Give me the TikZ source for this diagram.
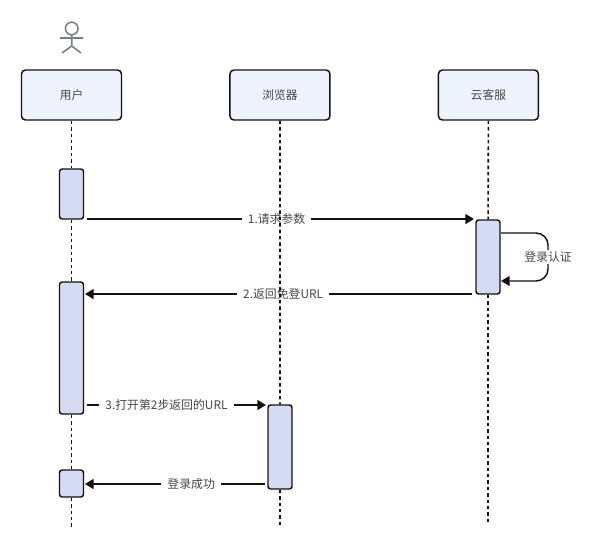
\documentclass[tikz,border=0pt]{standalone}
\usepackage{fontspec}
\setmainfont{Noto Sans CJK SC}
\usetikzlibrary{arrows.meta,positioning}
\definecolor{ink}{RGB}{18,18,18}
\definecolor{labelgray}{RGB}{70,70,70}
\definecolor{actorgray}{RGB}{122,126,138}
\definecolor{headfill}{RGB}{239,243,253}
\definecolor{activefill}{RGB}{213,219,243}

\begin{document}
\begin{tikzpicture}[x=0.75pt,y=-0.75pt,node distance=80.25pt]
        \tikzstyle{headbox}=[draw=ink,fill=headfill,line width=1.1pt,rounded corners=3pt,minimum width=75pt,minimum height=37.5pt,text=labelgray,font=\fontsize{8.8pt}{10pt}\selectfont]
        \tikzstyle{activebox}=[draw=ink,fill=activefill,line width=1.1pt,rounded corners=2pt,minimum width=18pt,inner sep=0pt]
        \tikzstyle{msg}=[-{Triangle[length=6.5pt,width=7.5pt]},ink,line width=1.1pt]
        \tikzstyle{msglabel}=[fill=white,text=labelgray,inner xsep=4.5pt,inner ysep=0pt,font=\fontsize{8.9pt}{10pt}\selectfont]
        \tikzstyle{lifeline}=[ink,line width=1.2pt,dash pattern=on 2.6pt off 2.2pt]
        \useasboundingbox (0,0) rectangle (599,551);
        \draw[actorgray,line width=1.2pt] (71.7,28.5) circle (6.3);
        \draw[actorgray,line width=1.2pt] (60,38) -- (83,38) (71.7,35) -- (71.7,46) (62,53) -- (71.7,46) -- (81,53);
        \node[headbox] (user) at (71.5,95) {用户};
        \node[headbox,right=of user] (browser) {浏览器};
        \node[headbox,right=of browser] (cloud) {云客服};
        \node[activebox,minimum height=37.5pt] (useract) at (71.5,194) {};
        \node[activebox,minimum height=99pt] (userret) at (71.5,348) {};
        \node[activebox,minimum height=20.25pt] (userend) at (71.5,483.5) {};
        \node[activebox,minimum height=63pt] (browseract) at (280,447) {};
        \node[activebox,minimum height=55.5pt] (cloudact) at (488,257) {};
        \coordinate (req) at (87,219);
        \coordinate (reqend) at (474,219);
        \coordinate (ret) at (472,294);
        \coordinate (retend) at (85,294);
        \coordinate (open) at (87,405);
        \coordinate (openend) at (266,405);
        \coordinate (ok) at (265,484);
        \coordinate (okend) at (85,484);
        \coordinate (selfa) at (501,233);
        \coordinate (selfb) at (501,281);
        \draw[msg] (req) -- node[msglabel,pos=0.49] (reqlabel) {1.请求参数} (reqend);
        \draw[msg] (ret) -- node[msglabel,pos=0.488] (retlabel) {2.返回免登URL} (retend);
        \draw[msg] (open) -- node[msglabel,pos=0.444] (openlabel) {3.打开第2步返回的URL} (openend);
        \draw[msg] (ok) -- node[msglabel,pos=0.41] (oklabel) {登录成功} (okend);
        \draw[msg,rounded corners=9pt] (selfa) -- (548,233) -- node[msglabel,pos=0.5,inner xsep=0pt,inner ysep=1pt] (selflabel) {登录认证} (548,281) -- (selfb);
        \coordinate (userfoot) at (71.5,527);
        \coordinate (browserfoot) at (280,527);
        \coordinate (cloudfoot) at (488,522);
        \draw[lifeline] (user) -- (useract);
        \draw[lifeline] (useract) -- (userret);
        \draw[lifeline] (userret) -- (userend);
        \draw[lifeline] (userend) -- (userfoot);
        \draw[lifeline] (browser) -- (browseract);
        \draw[lifeline] (browseract) -- (browserfoot);
        \draw[lifeline] (cloud) -- (cloudact);
        \draw[lifeline] (cloudact) -- (cloudfoot);
      \end{tikzpicture}
\end{document}
